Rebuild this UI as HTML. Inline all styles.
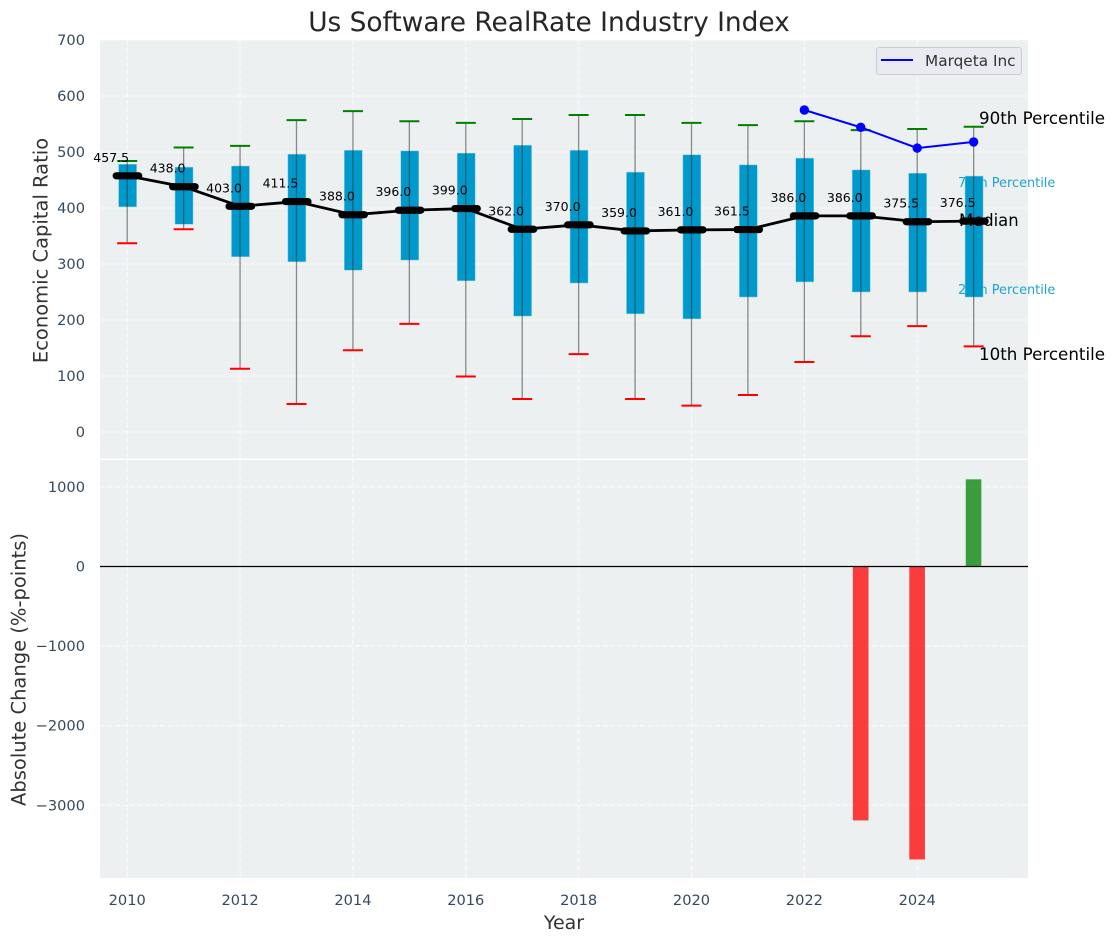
<!DOCTYPE html>
<html lang="en">
<head>
<meta charset="utf-8">
<title>Us Software RealRate Industry Index</title>
<style>
html,body{margin:0;padding:0;background:#fff;width:1114px;height:942px;overflow:hidden}
svg{display:block;font-family:"DejaVu Sans","Liberation Sans",sans-serif}
</style>
</head>
<body>
<svg id="chart" xmlns="http://www.w3.org/2000/svg" width="1114" height="942" viewBox="0 0 1114 942">
<text x="549" y="31" text-anchor="middle" font-size="26.4" fill="#262626">Us Software RealRate Industry Index</text>
<text transform="translate(47.5,250.5) rotate(-90)" text-anchor="middle" font-size="19.5" fill="#333">Economic Capital Ratio</text>
<text transform="translate(25.5,669.5) rotate(-90)" text-anchor="middle" font-size="19.5" fill="#333">Absolute Change (%-points)</text>
<text x="564" y="929" text-anchor="middle" font-size="19" fill="#333">Year</text>
<g id="layers"></g>
</svg>
<script>
const years = [2010,2011,2012,2013,2014,2015,2016,2017,2018,2019,2020,2021,2022,2023,2024,2025];
const p90 = [484,508,511,557,573,555,552,559,566,566,552,548,555,539,541,545];
const p75 = [478,473,475,496,503,502,498,512,503,464,495,477,489,468,462,457];
const medianValues = [457.5,438,403,411.5,388,396,399,362,370,359,361,361.5,386,386,375.5,376.5];
const p25 = [402,371,313,304,289,307,270,207,266,211,202,241,268,250,250,241];
const p10 = [337,362,113,50,146,193,99,59,139,59,47,66,125,171,189,153];
const companyYears = [2022,2023,2024,2025];
const companyValues = [575,544,507,518];
const changeYears = [2023,2024,2025];
const changeValues = [-3190,-3680,1095];
const topTicks = [0,100,200,300,400,500,600,700];
const bottomTicks = [-3000,-2000,-1000,0,1000];
const xTicks = [2010,2012,2014,2016,2018,2020,2022,2024];

const sx = y => 127.2 + (y - 2010) * 56.43;
const sTop = v => 432 - v * 0.56;
const sBot = v => 566.5 - v * 0.0796;
const NS = 'http://www.w3.org/2000/svg';
const root = document.getElementById('layers');
function mk(tag, attrs, text) {
  const n = document.createElementNS(NS, tag);
  for (const k in attrs) n.setAttribute(k, attrs[k]);
  if (text !== undefined) n.textContent = text;
  root.appendChild(n);
  return n;
}
const topPanel = mk('rect', {x:100, y:40, width:928, height:418.5, fill:'#ECF0F1'});


const botPanel = mk('rect', {x:100, y:460, width:928, height:418, fill:'#ECF0F1'});



const gridStyle = {stroke:'#fff', 'stroke-width':1, 'stroke-dasharray':'5 2.5', opacity:0.85};
topTicks.forEach(t => {
  const g = mk('line', {x1:100, x2:1028, y1:sTop(t), y2:sTop(t), ...gridStyle});
  
  
  const l = mk('text', {x:85, y:sTop(t)+5, 'text-anchor':'end', 'font-size':14.6, fill:'#34495E'}, String(t));
  
  
});
bottomTicks.forEach(t => {
  const g = mk('line', {x1:100, x2:1028, y1:sBot(t), y2:sBot(t), ...gridStyle});
  
  
  const l = mk('text', {x:85, y:sBot(t)+5, 'text-anchor':'end', 'font-size':14.6, fill:'#34495E'}, String(t).replace('-', '\u2212'));
  
  
});
xTicks.forEach(t => {
  const g1 = mk('line', {x1:sx(t), x2:sx(t), y1:40, y2:458.5, ...gridStyle});
  
  
  const g2 = mk('line', {x1:sx(t), x2:sx(t), y1:460, y2:878, ...gridStyle});
  
  
  const l = mk('text', {x:sx(t), y:905, 'text-anchor':'middle', 'font-size':14.6, fill:'#34495E'}, String(t));
  
  
});

const p75Label = mk('text', {x:958, y:187, 'font-size':12.9, fill:'#1FA3D1'}, '75th Percentile');


const p25Label = mk('text', {x:958, y:294, 'font-size':12.9, fill:'#1FA3D1'}, '25th Percentile');



years.forEach((y, i) => {
  const box = mk('rect', {x:sx(y)-8.6, y:sTop(p75[i]), width:18, height:sTop(p25[i])-sTop(p75[i]), fill:'#0099CC', stroke:'#8fd0e6', 'stroke-width':0.5});
  
  
  const w = mk('line', {x1:sx(y), x2:sx(y), y1:sTop(p90[i]), y2:sTop(p10[i]), stroke:'#333', 'stroke-width':1.3, opacity:0.55});
  
  
  const hi = mk('line', {x1:sx(y)-10, x2:sx(y)+10, y1:sTop(p90[i]), y2:sTop(p90[i]), stroke:'#008000', 'stroke-width':2});
  
  
  const lo = mk('line', {x1:sx(y)-10, x2:sx(y)+10, y1:sTop(p10[i]), y2:sTop(p10[i]), stroke:'#FF0000', 'stroke-width':2});
  
  
});

const medLine = mk('polyline', {points:years.map((y,i) => sx(y)+','+sTop(medianValues[i])).join(' '), fill:'none', stroke:'#000', 'stroke-width':2.8, 'stroke-linejoin':'round'});


years.forEach((y, i) => {
  const m = mk('line', {x1:sx(y)-11, x2:sx(y)+11.5, y1:sTop(medianValues[i]), y2:sTop(medianValues[i]), stroke:'#000', 'stroke-width':7.2, 'stroke-linecap':'round'});
  
  
  const l = mk('text', {x:sx(y)-16, y:sTop(medianValues[i])-14, 'text-anchor':'middle', 'font-size':12.5, fill:'#000'}, medianValues[i].toFixed(1));
  
  
});

const compLine = mk('polyline', {points:companyYears.map((y,i) => sx(y)+','+sTop(companyValues[i])).join(' '), fill:'none', stroke:'#0000FF', 'stroke-width':2});


companyYears.forEach((y, i) => {
  const c = mk('circle', {cx:sx(y), cy:sTop(companyValues[i]), r:4.7, fill:'#0000FF'});
  
  
});

const t90 = mk('text', {x:979, y:124, 'font-size':16.7, fill:'#000'}, '90th Percentile');


const tMed = mk('text', {x:959, y:226, 'font-size':16.4, fill:'#000'}, 'Median');


const t10 = mk('text', {x:979, y:360, 'font-size':16.7, fill:'#000'}, '10th Percentile');



changeYears.forEach((y, i) => {
  const v = changeValues[i];
  const top = Math.min(sBot(v), sBot(0));
  const b = mk('rect', {x:sx(y)-7.9, y:top, width:15.6, height:Math.abs(sBot(v)-sBot(0)), fill:v < 0 ? '#FF0000' : '#008000', 'fill-opacity':0.75});
  
  
});
const zero = mk('line', {x1:100, x2:1028, y1:sBot(0), y2:sBot(0), stroke:'#000', 'stroke-width':1.2});



const legendBox = mk('rect', {x:876.5, y:47.5, width:145, height:27, rx:2.5, fill:'#EAEAF2', 'fill-opacity':0.9, stroke:'#CCCCCC', 'stroke-width':1});


const legendLine = mk('line', {x1:881, x2:913, y1:60, y2:60, stroke:'#0000FF', 'stroke-width':2});


const legendText = mk('text', {x:925, y:66, 'font-size':15.3, fill:'#333'}, 'Marqeta Inc');


</script>
</body>
</html>
